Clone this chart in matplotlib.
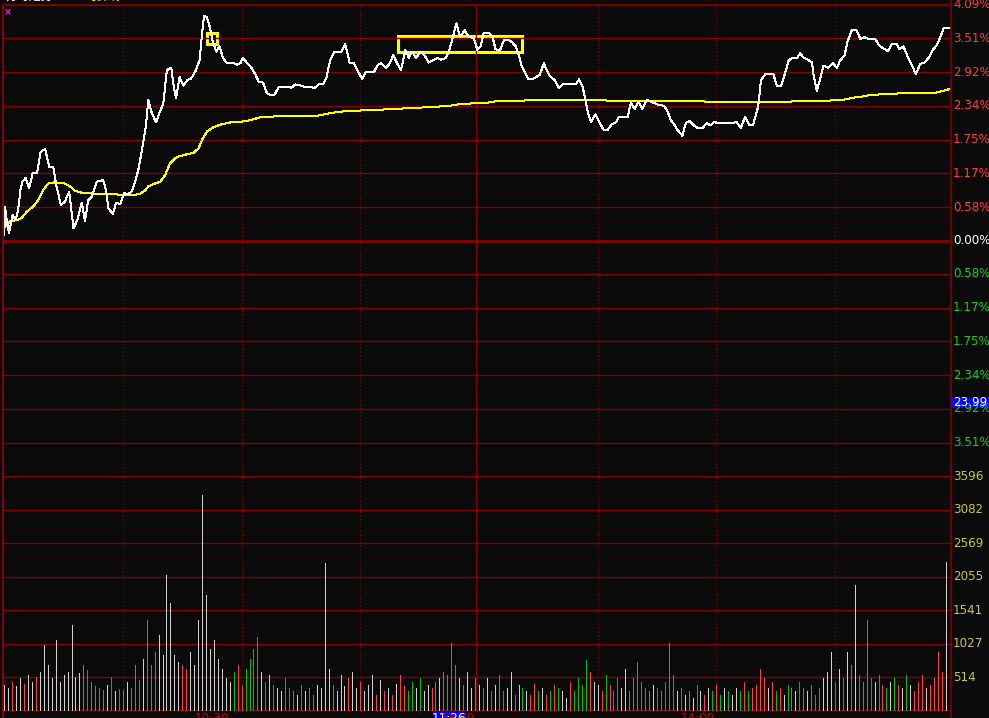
import matplotlib.pyplot as plt
from matplotlib.patches import Rectangle
from matplotlib.lines import Line2D

# intraday price line: minute index (0 = 9:30) and % change vs previous close
price_min = [0.0, 0.2, 0.6, 1.2, 2.1, 2.9, 3.5, 4.1, 4.6, 5.4, 6.3, 7.2, 8.3, 9.2, 10.3, 11.4,
             12.4, 13.2, 14.3, 15.3, 16.4, 17.5, 18.5, 19.6, 20.4, 21.2, 22.1, 23.4, 25.0, 25.7,
             26.3, 27.4, 28.3, 29.3, 30.3, 31.4, 32.2, 33.1, 33.9, 34.8, 35.8, 36.4, 37.3, 38.4,
             39.2, 40.2, 41.1, 42.2, 42.8, 43.4, 44.3, 45.3, 46.3, 47.2, 48.4, 49.4, 50.0, 50.5,
             51.2, 51.9, 52.7, 53.6, 54.4, 55.3, 56.3, 58.0, 58.8, 59.7, 60.3, 61.3, 62.6, 63.5,
             64.3, 65.4, 66.4, 67.4, 68.3, 69.4, 70.6, 71.9, 72.5, 73.6, 74.7, 75.7, 76.9, 78.4,
             79.5, 80.6, 81.4, 82.4, 83.5, 85.2, 86.2, 87.3, 88.3, 89.5, 90.5, 91.3, 93.4, 94.4,
             95.3, 96.5, 97.5, 98.3, 99.3, 100.3, 101.4, 102.3, 103.1, 104.1, 105.2, 106.2, 107.3,
             108.6, 109.5, 110.5, 111.6, 112.4, 113.2, 114.3, 115.2, 116.4, 117.4, 118.7, 119.6,
             120.4, 121.2, 122.5, 123.4, 124.2, 125.3, 126.3, 127.6, 128.4, 129.3, 130.1, 130.7,
             131.4, 132.5, 133.5, 134.3, 135.4, 136.4, 137.1, 138.0, 139.1, 140.2, 141.1, 144.5,
             145.3, 146.2, 147.0, 147.6, 148.3, 149.4, 150.4, 151.5, 152.5, 153.6, 154.6, 155.4,
             157.6, 158.4, 159.4, 160.3, 161.3, 162.4, 163.5, 164.3, 165.3, 166.7, 167.5, 168.5,
             169.4, 170.2, 171.4, 172.3, 173.2, 174.4, 175.4, 176.5, 177.6, 178.5, 179.5, 180.3,
             181.2, 184.3, 185.1, 186.2, 187.3, 188.3, 189.3, 190.0, 190.6, 191.3, 192.4, 194.4,
             195.3, 196.4, 197.4, 198.3, 199.3, 200.4, 201.2, 202.0, 203.1, 204.2, 204.5, 205.4,
             206.2, 207.1, 208.3, 209.4, 210.5, 211.3, 212.4, 213.2, 214.3, 215.4, 216.4, 217.5,
             218.6, 220.2, 221.1, 222.1, 223.4, 224.4, 225.5, 226.3, 227.3, 228.4, 229.5, 230.4,
             231.6, 232.6, 233.9, 234.7, 235.6, 236.5, 237.5, 239.4]
price_pct = [0.10, 0.59, 0.36, 0.13, 0.44, 0.36, 0.53, 0.88, 1.02, 1.09, 0.91, 1.18, 1.18, 1.54,
             1.59, 1.28, 1.27, 0.94, 0.62, 0.67, 0.85, 0.21, 0.36, 0.66, 0.33, 0.70, 0.76, 1.02,
             1.05, 0.88, 0.56, 0.46, 0.66, 0.63, 0.82, 0.81, 0.85, 1.02, 1.23, 1.57, 1.98, 2.44,
             2.21, 2.05, 2.21, 2.38, 2.96, 3.00, 2.70, 2.47, 2.84, 2.69, 2.79, 2.81, 2.95, 3.14,
             3.60, 3.90, 3.88, 3.72, 3.46, 3.28, 3.37, 3.17, 3.08, 3.08, 3.05, 3.08, 3.17, 3.09,
             2.99, 2.88, 2.76, 2.74, 2.56, 2.52, 2.53, 2.67, 2.67, 2.67, 2.65, 2.71, 2.70, 2.67,
             2.67, 2.65, 2.71, 2.72, 2.82, 3.14, 3.28, 3.28, 3.41, 3.09, 3.08, 2.93, 2.80, 2.92,
             2.92, 3.05, 3.08, 3.00, 3.08, 3.22, 3.08, 2.96, 3.31, 3.17, 3.28, 3.17, 3.28, 3.22,
             3.09, 3.14, 3.17, 3.14, 3.17, 3.28, 3.48, 3.77, 3.54, 3.65, 3.54, 3.51, 3.31, 3.37,
             3.61, 3.61, 3.54, 3.32, 3.30, 3.48, 3.48, 3.44, 3.37, 3.22, 3.05, 2.95, 2.80, 2.80,
             2.83, 2.88, 3.08, 2.96, 2.85, 2.79, 2.65, 2.71, 2.71, 2.80, 2.67, 2.41, 2.21, 2.06,
             2.19, 2.06, 1.92, 1.92, 2.02, 2.05, 2.15, 2.15, 2.39, 2.28, 2.41, 2.28, 2.44, 2.41,
             2.39, 2.36, 2.34, 2.27, 2.09, 2.01, 1.92, 1.82, 2.04, 2.08, 1.99, 1.95, 1.95, 2.04,
             2.00, 2.06, 2.04, 2.04, 2.04, 2.06, 1.96, 2.15, 2.01, 2.01, 2.18, 2.33, 2.79, 2.89,
             2.89, 2.69, 2.69, 2.91, 3.13, 3.17, 3.17, 3.25, 3.18, 3.14, 3.09, 2.91, 2.60, 2.79,
             3.04, 3.00, 3.08, 3.00, 3.13, 3.21, 3.46, 3.66, 3.66, 3.50, 3.53, 3.50, 3.50, 3.39,
             3.34, 3.29, 3.42, 3.42, 3.32, 3.37, 3.19, 3.04, 2.89, 3.07, 3.09, 3.19, 3.31, 3.38,
             3.51, 3.69, 3.69]

# average price line
avg_min = [0.2, 1.4, 3.5, 4.4, 5.7, 7.3, 8.6, 9.9, 11.1, 12.8, 15.3, 16.6, 17.9, 19.6, 21.7,
           24.2, 28.0, 32.6, 34.3, 35.6, 36.4, 37.7, 39.4, 40.7, 41.9, 43.6, 45.7, 47.8, 49.1,
           50.0, 51.2, 52.9, 55.0, 57.1, 59.7, 62.2, 64.7, 69.8, 78.6, 81.6, 84.1, 86.7, 90.9,
           97.6, 102.7, 108.6, 112.8, 114.1, 117.9, 120.4, 121.7, 124.6, 136.9, 152.1, 152.5,
           176.9, 177.4, 181.2, 198.9, 199.3, 208.6, 209.0, 212.8, 214.5, 217.0, 218.3, 221.7,
           228.0, 235.6, 237.3, 239.0]
avg_pct = [0.24, 0.33, 0.36, 0.39, 0.50, 0.59, 0.70, 0.88, 0.99, 1.01, 0.99, 0.94, 0.86, 0.83,
           0.82, 0.81, 0.80, 0.79, 0.81, 0.87, 0.94, 0.98, 1.02, 1.14, 1.34, 1.45, 1.49, 1.52,
           1.60, 1.75, 1.89, 1.97, 2.02, 2.05, 2.06, 2.09, 2.14, 2.16, 2.16, 2.20, 2.23, 2.25,
           2.26, 2.28, 2.30, 2.32, 2.34, 2.36, 2.38, 2.38, 2.39, 2.42, 2.44, 2.44, 2.42, 2.42,
           2.40, 2.40, 2.41, 2.42, 2.42, 2.44, 2.45, 2.48, 2.50, 2.52, 2.54, 2.56, 2.57, 2.60,
           2.63]

# per-minute volume (minute 0..238) and bar colour: r = up, g = down, w = flat
vol = [400, 350, 450, 380, 500, 420, 550, 450, 520, 600,
       1009, 700, 500, 1086, 450, 550, 600, 1315, 520, 580,
       700, 620, 450, 380, 350, 320, 400, 520, 300, 330,
       320, 450, 350, 700, 480, 800, 1391, 700, 900, 1162,
       850, 2079, 1651, 850, 750, 700, 650, 900, 700, 1391,
       3303, 1774, 950, 1086, 800, 650, 500, 450, 600, 700,
       380, 650, 800, 950, 1131, 600, 450, 550, 400, 350,
       300, 500, 350, 300, 250, 400, 300, 350, 250, 400,
       350, 2263, 650, 400, 300, 550, 380, 500, 600, 350,
       450, 300, 400, 550, 250, 480, 300, 350, 250, 420,
       550, 380, 300, 450, 350, 500, 300, 400, 350, 450,
       500, 600, 550, 1040, 700, 500, 400, 600, 350, 500,
       400, 350, 500, 300, 400, 550, 300, 350, 600, 250,
       400, 350, 300, 250, 420, 300, 350, 250, 300, 400,
       350, 300, 200, 450, 300, 500, 400, 780, 600, 450,
       400, 300, 550, 400, 300, 500, 350, 650, 300, 500,
       750, 450, 350, 300, 400, 350, 300, 450, 1040, 550,
       300, 350, 250, 300, 200, 400, 300, 250, 350, 300,
       400, 250, 350, 300, 250, 350, 300, 450, 300, 350,
       400, 650, 500, 350, 450, 300, 350, 250, 400, 350,
       300, 450, 350, 300, 400, 250, 350, 500, 600, 902,
       450, 650, 500, 902, 700, 1927, 550, 450, 1391, 500,
       450, 550, 400, 350, 450, 500, 400, 350, 550, 400,
       300, 450, 550, 350, 400, 500, 902, 600, 2278]
vol_col = ('wwrwwrwwrw' 'wwwwwwwwww' 'rgrrrrwgwg' 'rwrrrwrrrw' 'wwwwwrrwww'
           'wwwwwwwwgr' 'rggggwgwgw' 'wggrwgwgrw' 'wwwrwwwrww' 'rwwwrwrwrw'
           'rrggwgwwrr' 'wrrrrwrwwr' 'wrwgwrgwwr' 'wgwrrgwrgr' 'gwwrggggrw'
           'wrgrggwwrr' 'rggrwgrgrg' 'wgwrwgwrwg' 'rgwgwwgrgr' 'rrrwrgrwgr'
           'wgrwrgrwww' 'gwgwrwgrrg' 'wgrgwgrwgw' 'rrrwrrrrw')

pct_levels = [0.58, 1.17, 1.75, 2.34, 2.92, 3.51, 4.09]
vol_levels = [514, 1027, 1541, 2055, 2569, 3082, 3596]
half_hours = [30, 60, 90, 150, 180, 210]
midday = 119.2
time_labels = [(60, '10:30', 13), (119.2, '13:00', 1), (180, '14:00', 2)]

W, H = 989, 718
BG = '#0a0a0a'
GRID = '#840000'
RED = '#ff3c3c'
GREEN = '#1ec81e'
VOLTXT = '#c8c832'
FS = 8.6

fig = plt.figure(figsize=(W / 100, H / 100), dpi=100)
fig.patch.set_facecolor(BG)

ax = fig.add_axes([2.5 / W, 1 - 476 / H, 948 / W, 471 / H])
axv = fig.add_axes([2.5 / W, 1 - 711 / H, 948 / W, 235 / H])
for a in (ax, axv):
    a.set_facecolor(BG)
    a.set_xlim(-0.45, 239.2)
    a.set_xticks([])
    a.set_yticks([])
    for s in a.spines.values():
        s.set_visible(False)
    for m in half_hours:
        a.axvline(m, color=GRID, lw=0.9, ls=(0, (1, 2)))
    a.axvline(midday, color=GRID, lw=0.9)

ax.set_ylim(-4.09, 4.09)
axv.set_ylim(0, 3596)

# grids
for lv in pct_levels:
    ax.axhline(lv, color=GRID, lw=1.0)
    ax.axhline(-lv, color=GRID, lw=1.0)
ax.axhline(0, color=GRID, lw=2.0)
for lv in vol_levels:
    axv.axhline(lv, color=GRID, lw=1.0)
axv.axhline(0, color=GRID, lw=1.2)

ax.plot(avg_min, avg_pct, color='#ffff00', lw=0.72, antialiased=False)
ax.plot(price_min, price_pct, color='white', lw=0.72, antialiased=False)

cmap = {'r': '#ff4040', 'g': '#00c000', 'w': '#d0d0d0'}
axv.vlines(range(len(vol)), 0, vol, colors=[cmap[c] for c in vol_col], lw=0.72,
           antialiased=False)

# yellow marker boxes
ax.add_patch(Rectangle((51.3, 3.42), 2.5, 0.18, fill=False, ec='#ffff00', lw=2.2))
ax.add_patch(Rectangle((99.6, 3.28), 31.3, 0.28, fill=False, ec='#ffff00', lw=2.2))

# frame lines
fig.add_artist(Line2D([2.5 / W, 2.5 / W], [0, 1 - 5 / H], color=GRID, lw=1.5))
fig.add_artist(Line2D([951 / W, 951 / W], [0, 1], color=GRID, lw=1.2))
fig.add_artist(Line2D([2.5 / W, 951 / W], [1 - 5 / H, 1 - 5 / H], color=GRID, lw=1.2))

# right axis labels
def py(y_pct):
    return 1 - (5 + (4.09 - y_pct) / 8.18 * 471) / H

lx = 953 / W
for lv in pct_levels:
    fig.text(lx, py(lv), f'{lv:.2f}%', color=RED, fontsize=FS, va='center', ha='left')
for lv in pct_levels[:-1]:
    fig.text(lx, py(-lv), f'{lv:.2f}%', color=GREEN, fontsize=FS, va='center', ha='left')
fig.text(lx, py(0), '0.00%', color='white', fontsize=FS, va='center', ha='left')
for i, lv in enumerate(vol_levels):
    yy = 1 - (711 - (i + 1) * 235 / 7) / H
    fig.text(lx, yy, str(lv), color=VOLTXT, fontsize=FS, va='center', ha='left')

# cursor price label
fig.add_artist(Rectangle((951 / W, 1 - 408 / H), 38 / W, 11 / H, transform=fig.transFigure,
                         fc='#0000ff', ec='none'))
fig.text(953 / W, 1 - 402.5 / H, '23.99', color='white', fontsize=FS, va='center', ha='left')

# time axis labels (mostly clipped by the image edge)
for m, lab, gap in time_labels:
    xx = (2.5 + (m + 0.45) / 239.65 * 948 - gap) / W
    fig.text(xx, 1 - 712 / H, lab, color='#c80000', fontsize=FS, va='top', ha='right')
fig.add_artist(Rectangle((433 / W, 0), 32 / W, 7 / H, transform=fig.transFigure,
                         fc='#0000ff', ec='none'))
fig.text(449 / W, 1 - 712 / H, '11:26', color='white', fontsize=FS, va='top', ha='center')

# header strip (clipped at the top)
fig.text(5 / W, 1 - 3 / H, '分时走势', color='white', fontsize=FS, va='bottom',
         family=['Noto Sans CJK SC', 'DejaVu Sans'])
fig.text(85 / W, 1 - 3 / H, '均价线', color='#ffff00', fontsize=FS, va='bottom',
         family=['Noto Sans CJK SC', 'DejaVu Sans'])
fig.text(8 / W, 1 - 12 / H, '×', color='#ff00ff', fontsize=7, va='center', ha='center',
         fontweight='bold')

fig.savefig('out.png', dpi=100, facecolor=BG)
